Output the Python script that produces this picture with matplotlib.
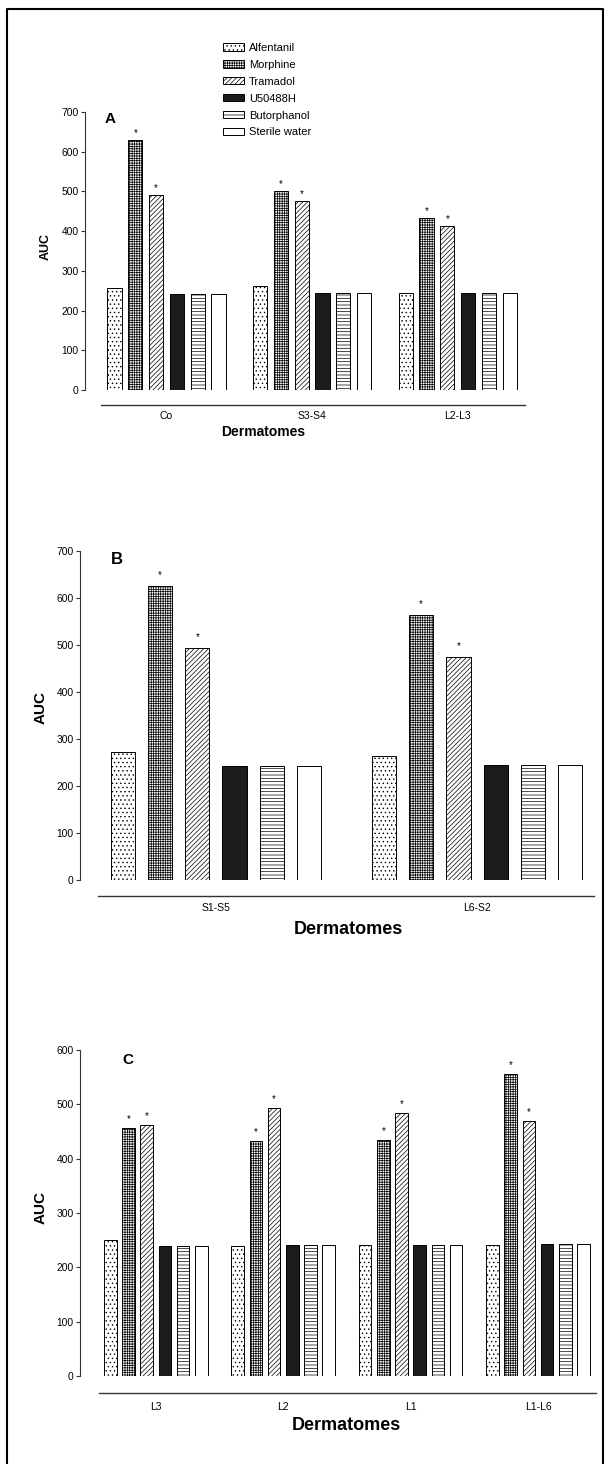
import matplotlib
matplotlib.use('Agg')
import matplotlib.pyplot as plt
import numpy as np
from matplotlib.lines import Line2D

plt.rcParams['font.family'] = ['Liberation Sans', 'DejaVu Sans']
plt.rcParams['hatch.linewidth'] = 0.5

# drugs / legend entries
drugs = ['Alfentanil', 'Morphine', 'Tramadol', 'U50488H', 'Butorphanol', 'Sterile water']
hatches = ['....', '+++++++', '///////', None, '-----', None]
faces = ['white', 'white', 'white', '#1c1c1c', 'white', 'white']
starred = [False, True, True, False, False, False]

# panel A
cats_a = ['Co', 'S3-S4', 'L2-L3']
auc_a = [[258, 630, 490, 241, 241, 241],
         [262, 501, 477, 243, 243, 243],
         [243, 433, 414, 245, 245, 245]]

# panel B
cats_b = ['S1-S5', 'L6-S2']
auc_b = [[272, 626, 493, 242, 242, 243],
         [263, 564, 475, 244, 244, 245]]

# panel C
cats_c = ['L3', 'L2', 'L1', 'L1-L6']
auc_c = [[250, 456, 462, 240, 240, 240],
         [240, 432, 493, 241, 241, 241],
         [241, 434, 484, 242, 242, 242],
         [242, 556, 470, 243, 243, 243]]

W, H = 609, 1464
fig = plt.figure(figsize=(W / 100, H / 100), dpi=100)


def fx(px):
    return px / W


def fy(py):
    return 1 - py / H


def panel(cats, vals, ymax, left, right, y0, ytop, first, step, width,
          line_x0, line_y, lab_y, star_dy, tick_fs=7.4, lab_fs=7.5):
    ax = fig.add_axes([fx(left), fy(y0), (right - left) / W, (y0 - ytop) / H])
    vals = np.array(vals)
    gx = np.arange(len(cats)) * 7
    for i, d in enumerate(drugs):
        ax.bar(gx + i, vals[:, i], width, color=faces[i], edgecolor='black',
               linewidth=0.7, hatch=hatches[i], label=d)
        if starred[i]:
            for x, v in zip(gx + i, vals[:, i]):
                ax.annotate('*', xy=(x, v), xytext=(0, star_dy), textcoords='offset points',
                            ha='center', va='center', fontsize=7)
    ax.set_xlim((left - first) / step, (right - first) / step)
    ax.set_ylim(0, ymax)
    for s in ['top', 'right', 'bottom']:
        ax.spines[s].set_visible(False)
    ax.spines['left'].set_linewidth(0.8)
    ax.spines['left'].set_color('#333333')
    ax.set_xticks([])
    ax.set_yticks(np.arange(0, ymax + 1, 100))
    ax.tick_params(axis='y', length=3, width=0.8, labelsize=tick_fs, pad=1.5, color='#333333')
    per_px = ymax / (y0 - ytop)
    ax.plot([(line_x0 - first) / step, (right - first) / step],
            [-(line_y - y0) * per_px] * 2, color='#333333', lw=1.0, clip_on=False)
    for g, c in zip(gx, cats):
        ax.text(g + 2.5, -(lab_y - y0) * per_px, c, ha='center', va='center',
                fontsize=lab_fs, clip_on=False)
    return ax


ax_a = panel(cats_a, auc_a, 700, 85, 525, 390, 112, 114.5, 20.8, 0.69,
             101, 405, 416, 5)
ax_b = panel(cats_b, auc_b, 700, 80, 594, 880, 551, 122.7, 37.3, 0.65,
             98, 896, 908, 8)
ax_c = panel(cats_c, auc_c, 600, 80, 596, 1376, 1050, 110.3, 18.2, 0.69,
             99, 1393, 1407, 6.5)

# panel letters
fig.text(fx(110), fy(119), 'A', fontsize=11, fontweight='bold', ha='center', va='center')
fig.text(fx(117), fy(559), 'B', fontsize=12, fontweight='bold', ha='center', va='center')
fig.text(fx(128), fy(1060), 'C', fontsize=11, fontweight='bold', ha='center', va='center')

# y labels
fig.text(fx(46), fy(247), 'AUC', fontsize=9, fontweight='bold', rotation=90, ha='center', va='center')
fig.text(fx(41), fy(708), 'AUC', fontsize=11, fontweight='bold', rotation=90, ha='center', va='center')
fig.text(fx(41), fy(1208), 'AUC', fontsize=11, fontweight='bold', rotation=90, ha='center', va='center')

# x labels
fig.text(fx(263), fy(432), 'Dermatomes', fontsize=10, fontweight='bold', ha='center', va='center')
fig.text(fx(348), fy(930), 'Dermatomes', fontsize=13, fontweight='bold', ha='center', va='center')
fig.text(fx(346), fy(1426), 'Dermatomes', fontsize=13, fontweight='bold', ha='center', va='center')

ax_a.legend(loc='upper left', bbox_to_anchor=(fx(223), fy(43)), bbox_transform=fig.transFigure,
            frameon=False, fontsize=8, handlelength=1.9, handleheight=0.62,
            handletextpad=0.45, labelspacing=0.62, borderpad=0, borderaxespad=0)

# page frame
fig.add_artist(Line2D([fx(7), fx(7), fx(603), fx(603)], [0, fy(9), fy(9), 0],
                      transform=fig.transFigure, color='black', lw=1.5))

fig.savefig('out.png', dpi=100)
